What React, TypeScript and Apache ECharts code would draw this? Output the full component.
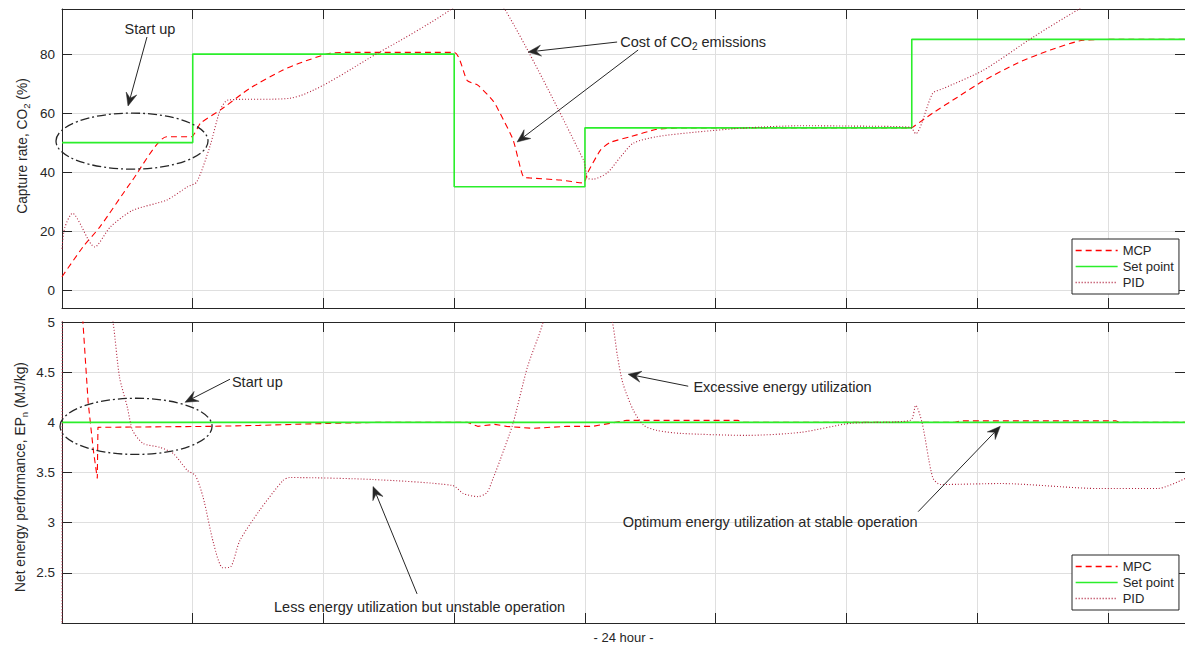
import React, { useEffect, useRef } from 'react';
import * as echarts from 'echarts';

// ---------- data (time in grid divisions of the 24 hour run) ----------
const X_MAX = 8.59;

// Top panel: capture rate, CO2 (%)
const setpointCaptureTime = [0, 1, 3, 4, 6.5, 8.59];
const setpointCapture = [50, 80, 35, 55, 85, 85];

const mcpCaptureTime = [0, 0.16, 0.29, 0.54, 0.80, 0.99, 1.06, 1.21, 1.44, 1.69, 1.82, 2.05, 2.2, 3.0, 3.10, 3.18, 3.30, 3.35, 3.45, 3.53, 3.58, 3.81, 3.99, 4.02, 4.12, 4.19, 4.35, 4.55, 4.80, 6.50, 6.51, 6.66, 6.85, 7.05, 7.31, 7.56, 7.81, 8.12, 8.59];
const mcpCapture = [4.5, 14.6, 21.4, 37.3, 52, 52, 56.6, 61, 68.5, 74.6, 77, 80.3, 80.6, 80.6, 71, 69.5, 64, 60, 51, 38.3, 38, 37.3, 36.3, 39.7, 47.5, 50, 52, 54.5, 55, 55, 55.3, 60, 65.4, 71, 77, 81.4, 84.7, 85, 85];

const pidCaptureTime = [0, 0.02, 0.08, 0.25, 0.37, 0.54, 0.80, 0.96, 1.03, 1.13, 1.21, 1.27, 1.74, 2.43, 2.97, 3.18, 3.39, 3.99, 4.02, 4.06, 4.17, 4.27, 4.37, 4.55, 4.86, 5.24, 5.65, 6.03, 6.49, 6.53, 6.66, 6.74, 7.05, 7.43, 7.77, 8.02];
const pidCapture = [14, 21, 26, 14.6, 21.4, 27, 30.5, 35, 36.6, 48.5, 61, 64.4, 65, 80.7, 95, 104, 95, 44, 38, 37.6, 39.7, 45, 49.8, 52, 53.6, 55, 55.7, 55.6, 55.2, 53, 66.7, 68.3, 74.6, 85.8, 95, 101];

// Bottom panel: net energy performance, EPn (MJ/kg)
const setpointEnergyTime = [0, 8.59];
const setpointEnergy = [4, 4];

const mpcEnergyTime = [0, 0.15, 0.16, 0.20, 0.24, 0.27, 0.275, 1.15, 1.51, 2.05, 2.43, 3.10, 3.18, 3.31, 3.40, 3.60, 3.86, 4.06, 4.19, 4.32, 5.17, 5.20, 6.83, 6.87, 8.06, 8.09, 8.59];
const mpcEnergy = [6.5, 6.0, 5.0, 4.2, 3.72, 3.44, 3.95, 3.96, 3.97, 3.99, 4.0, 4.0, 3.96, 3.98, 3.96, 3.94, 3.96, 3.96, 3.99, 4.02, 4.02, 4.0, 4.0, 4.015, 4.015, 4.0, 4.0];

const pidEnergyTime = [0, 0.01, 0.30, 0.39, 0.44, 0.50, 0.54, 0.62, 0.75, 0.85, 0.96, 1.02, 1.08, 1.16, 1.23, 1.29, 1.36, 1.51, 1.69, 1.74, 2.38, 2.99, 3.07, 3.18, 3.25, 3.30, 3.35, 3.45, 3.56, 3.68, 3.95, 4.21, 4.25, 4.29, 4.37, 4.45, 4.55, 4.73, 5.24, 5.65, 6.03, 6.49, 6.53, 6.58, 6.66, 6.72, 7.18, 7.94, 8.38, 8.59];
const pidEnergy = [1.5, 6.5, 5.6, 5.0, 4.45, 4.15, 3.92, 3.79, 3.75, 3.69, 3.52, 3.47, 3.25, 2.79, 2.55, 2.56, 2.82, 3.12, 3.42, 3.45, 3.43, 3.37, 3.29, 3.26, 3.30, 3.45, 3.62, 3.99, 4.55, 5.0, 6.5, 5.0, 4.65, 4.39, 4.12, 3.97, 3.92, 3.89, 3.87, 3.9, 3.99, 4.02, 4.17, 3.99, 3.45, 3.38, 3.39, 3.34, 3.34, 3.44];

// Tick labels
const captureTicks = [0, 20, 40, 60, 80];
const energyTicks = [2.5, 3, 3.5, 4, 4.5, 5];

// Legends
const topLegend = ['MCP', 'Set point', 'PID'];
const bottomLegend = ['MPC', 'Set point', 'PID'];

// Annotations (anchored in data coordinates of each panel)
const ellipses = [
  { panel: 0, u: [-0.046, 1.117], v: [41, 60] },
  { panel: 1, u: [-0.015, 1.148], v: [3.68, 4.24] },
];
const arrows = [
  { panel: 0, from: [0.65, 85.8], to: [0.505, 62.4] },
  { panel: 0, from: [4.246, 84.1], to: [3.565, 80.7] },
  { panel: 0, from: [4.407, 81.4], to: [3.481, 50.2] },
  { panel: 1, from: [1.285, 4.43], to: [0.941, 4.2] },
  { panel: 1, from: [4.79, 4.36], to: [4.33, 4.48] },
  { panel: 1, from: [6.549, 3.11], to: [7.177, 3.96] },
  { panel: 1, from: [2.716, 2.29], to: [2.379, 3.36] },
];
const notes = [
  { panel: 0, at: [0.673, 88.5], text: 'Start up', align: 'center' },
  { panel: 0, at: [4.27, 84.1], text: 'Cost of CO{s|2} emissions', align: 'left' },
  { panel: 1, at: [1.3, 4.4], text: 'Start up', align: 'left' },
  { panel: 1, at: [4.83, 4.35], text: 'Excessive energy utilization', align: 'left' },
  { panel: 1, at: [5.417, 3.01], text: 'Optimum energy utilization at stable operation', align: 'center' },
  { panel: 1, at: [2.735, 2.16], text: 'Less energy utilization but unstable operation', align: 'center' },
];

const FONT = '"Liberation Sans", Arial, Helvetica, sans-serif';
const INK = '#262626';
const GRID_C = '#dfdfdf';
const RED = '#ff0000';
const GREEN = '#2bee2b';
const PID_C = '#b0203c';

const zip = (t: number[], v: number[]) => t.map((x, i) => [x, v[i]]);

export default function App() {
  const ref = useRef<HTMLDivElement>(null);

  useEffect(() => {
    const chart = echarts.init(ref.current as HTMLDivElement, null, { renderer: 'svg' });

    const xAxis = (gridIndex: number, position: 'bottom' | 'top', extra: any = {}) => ({
      type: 'value',
      gridIndex,
      position,
      min: 0,
      max: X_MAX,
      interval: 1,
      axisLine: { show: true, onZero: false, lineStyle: { color: INK, width: 1 } },
      axisTick: { show: true, inside: true, length: 10, lineStyle: { color: INK } },
      axisLabel: { show: false },
      splitLine: { show: position === 'bottom', lineStyle: { color: GRID_C, width: 1 } },
      ...extra,
    });

    const yAxis = (gridIndex: number, position: 'left' | 'right', range: any, ticks: number[]) => ({
      type: 'value',
      gridIndex,
      position,
      ...range,
      axisLine: { show: true, onZero: false, lineStyle: { color: INK, width: 1 } },
      axisTick: { show: true, inside: true, length: 10, lineStyle: { color: INK } },
      axisLabel: {
        show: position === 'left',
        color: INK,
        fontSize: 13.5,
        fontFamily: FONT,
        margin: 7,
        showMinLabel: true,
        showMaxLabel: true,
        formatter: (val: number) => (ticks.some((t) => Math.abs(t - val) < 1e-6) ? String(val) : ''),
      },
      splitLine: { show: position === 'left', lineStyle: { color: GRID_C, width: 1 } },
    });

    const topRange = { min: -6.1, max: 95.3, splitNumber: 5 };
    const botRange = { min: 2, max: 5, interval: 0.5 };

    const line = (name: string, data: number[][], axis: number, style: any, extra: any = {}) => ({
      type: 'line',
      name,
      data,
      xAxisIndex: axis,
      yAxisIndex: axis,
      showSymbol: false,
      symbol: 'none',
      clip: true,
      lineStyle: style,
      itemStyle: { color: style.color },
      emphasis: { disabled: true },
      ...extra,
    });

    const mcpStyle = { color: RED, width: 1.1, type: [6, 4] };
    const spStyle = { color: GREEN, width: 1.6, type: 'solid' };
    const pidStyle = { color: PID_C, width: 1.1, type: [1, 2] };

    const legendBase = {
      orient: 'vertical',
      left: 1072,
      backgroundColor: '#ffffff',
      borderColor: INK,
      borderWidth: 1,
      borderRadius: 0,
      padding: [5, 5, 5, 3],
      itemWidth: 42,
      itemHeight: 14,
      itemGap: 3,
      itemStyle: { opacity: 0 },
      lineStyle: { width: 1.3 },
      textStyle: { color: INK, fontSize: 13, fontFamily: FONT },
      selectedMode: false,
    };

    chart.setOption({
      animation: false,
      backgroundColor: '#ffffff',
      textStyle: { fontFamily: FONT },
      grid: [
        { left: 62, top: 9, width: 1123, height: 299, containLabel: false },
        { left: 62, top: 322, width: 1123, height: 301, containLabel: false },
      ],
      xAxis: [
        xAxis(0, 'bottom'),
        xAxis(0, 'top'),
        xAxis(1, 'bottom', {
          name: '- 24 hour -',
          nameLocation: 'middle',
          nameGap: 8,
          nameTextStyle: { color: INK, fontSize: 13, fontFamily: FONT, verticalAlign: 'top' },
        }),
        xAxis(1, 'top'),
      ],
      yAxis: [
        yAxis(0, 'left', topRange, captureTicks),
        yAxis(0, 'right', topRange, captureTicks),
        yAxis(1, 'left', botRange, energyTicks),
        yAxis(1, 'right', botRange, energyTicks),
      ],
      legend: [
        { ...legendBase, top: 239, data: topLegend },
        { ...legendBase, top: 555, data: bottomLegend },
      ],
      series: [
        line('MCP', zip(mcpCaptureTime, mcpCapture), 0, mcpStyle, { smooth: 0.2 }),
        line('Set point', zip(setpointCaptureTime, setpointCapture), 0, spStyle, { step: 'end' }),
        line('PID', zip(pidCaptureTime, pidCapture), 0, pidStyle, { smooth: 0.25 }),
        line('MPC', zip(mpcEnergyTime, mpcEnergy), 2, mcpStyle),
        line('Set point', zip(setpointEnergyTime, setpointEnergy), 2, spStyle),
        line('PID', zip(pidEnergyTime, pidEnergy), 2, pidStyle, { smooth: 0.25 }),
      ],
    });

    const finder = (panel: number) => (panel === 0 ? { xAxisIndex: 0, yAxisIndex: 0 } : { xAxisIndex: 2, yAxisIndex: 2 });
    const px = (panel: number, p: number[]) => chart.convertToPixel(finder(panel) as any, p) as unknown as number[];

    const richNote = { s: { fontSize: 10, fontFamily: FONT, fill: INK, color: INK, padding: [9, 0, 0, 0] } };
    const richTitle = { s: { fontSize: 9.5, fontFamily: FONT, fill: INK, color: INK, padding: [9, 0, 0, 0] } };
    const els: any[] = [];

    ellipses.forEach((e) => {
      const a = px(e.panel, [e.u[0], e.v[0]]);
      const b = px(e.panel, [e.u[1], e.v[1]]);
      els.push({
        type: 'ellipse',
        silent: true,
        z: 50,
        shape: { cx: (a[0] + b[0]) / 2, cy: (a[1] + b[1]) / 2, rx: Math.abs(b[0] - a[0]) / 2, ry: Math.abs(b[1] - a[1]) / 2 },
        style: { fill: 'none', stroke: INK, lineWidth: 1.3, lineDash: [9, 3, 2, 3] },
      });
    });

    arrows.forEach((ar) => {
      const s = px(ar.panel, ar.from);
      const t = px(ar.panel, ar.to);
      const dx = t[0] - s[0];
      const dy = t[1] - s[1];
      const len = Math.hypot(dx, dy);
      const ux = dx / len;
      const uy = dy / len;
      const L = 13;
      const W = 5.5;
      const bx = t[0] - ux * L;
      const by = t[1] - uy * L;
      const nx = t[0] - ux * L * 0.62;
      const ny = t[1] - uy * L * 0.62;
      els.push({
        type: 'line',
        silent: true,
        z: 50,
        shape: { x1: s[0], y1: s[1], x2: nx, y2: ny },
        style: { stroke: INK, lineWidth: 1 },
      });
      els.push({
        type: 'polygon',
        silent: true,
        z: 50,
        shape: {
          points: [
            [t[0], t[1]],
            [bx - uy * W, by + ux * W],
            [nx, ny],
            [bx + uy * W, by - ux * W],
          ],
        },
        style: { fill: INK, stroke: INK, lineWidth: 0.5 },
      });
    });

    notes.forEach((n) => {
      const p = px(n.panel, n.at);
      els.push({
        type: 'text',
        silent: true,
        z: 50,
        x: p[0],
        y: p[1],
        style: {
          text: n.text,
          fill: INK,
          fontSize: 14.5,
          fontFamily: FONT,
          align: n.align,
          verticalAlign: 'middle',
          rich: richNote,
        },
      });
    });

    els.push({
      type: 'text',
      silent: true,
      x: 22,
      y: 146,
      rotation: Math.PI / 2,
      style: {
        text: 'Capture rate, CO{s|2} (%)',
        fill: INK,
        fontSize: 13.8,
        fontFamily: FONT,
        align: 'center',
        verticalAlign: 'middle',
        rich: richTitle,
      },
    });
    els.push({
      type: 'text',
      silent: true,
      x: 20,
      y: 477,
      rotation: Math.PI / 2,
      style: {
        text: 'Net energy performance, EP{s|n} (MJ/kg)',
        fill: INK,
        fontSize: 13.8,
        fontFamily: FONT,
        align: 'center',
        verticalAlign: 'middle',
        rich: richTitle,
      },
    });

    chart.setOption({ graphic: els });

    return () => {
      chart.dispose();
    };
  }, []);

  return (
    <div
      ref={ref}
      style={{ position: 'absolute', left: 0, top: 0, width: 1185, height: 648, background: '#ffffff' }}
    />
  );
}
